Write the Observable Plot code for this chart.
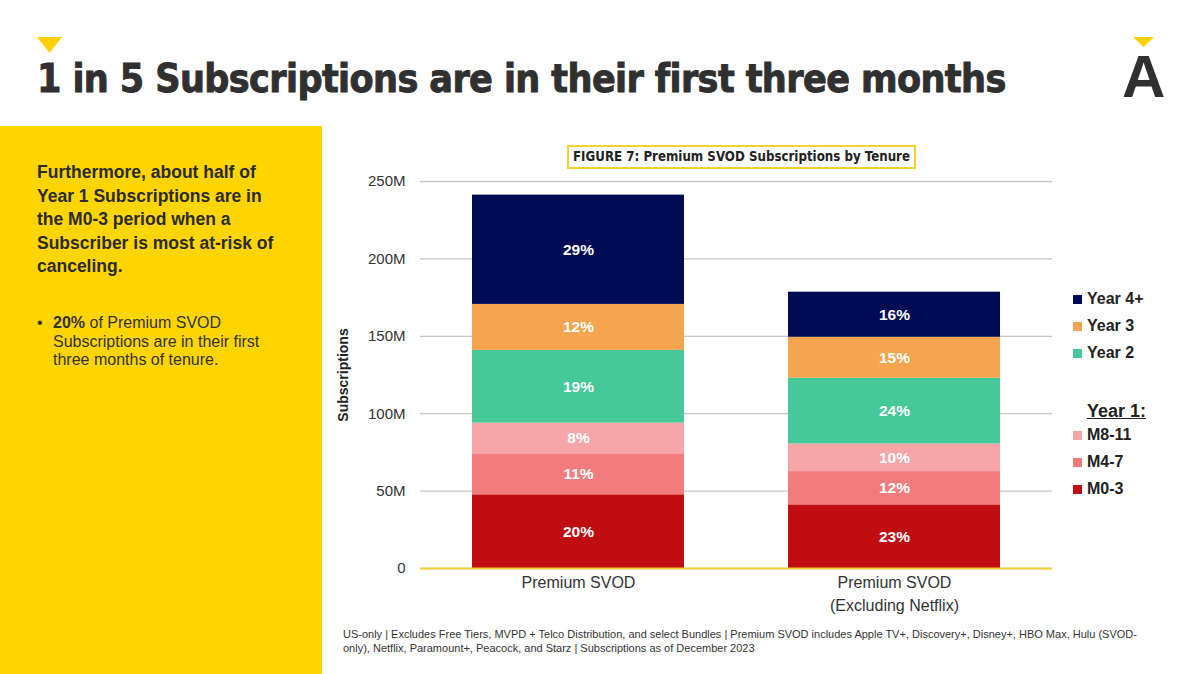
<!DOCTYPE html>
<html><head><meta charset="utf-8">
<script src="https://cdn.jsdelivr.net/npm/d3@7"></script>
<script src="https://cdn.jsdelivr.net/npm/@observablehq/plot@0.6"></script>
<style>
  html, body { margin: 0; padding: 0; background: #fff; }
  body { width: 1200px; height: 674px; position: relative; overflow: hidden; font-family: 'Liberation Sans', Arial, sans-serif; color: #333; }
  .abs { position: absolute; }
  #title { left: 37px; top: 59px; font-family: 'DejaVu Sans Condensed', sans-serif; font-weight: bold; font-size: 39px; letter-spacing: -0.6px; line-height: 1; color: #303030; white-space: nowrap; -webkit-text-stroke: 0.9px #303030; }
  #logo { left: 1122px; top: 47px; font-weight: bold; font-size: 60px; line-height: 1; color: #303030; }
  #panel { left: 0; top: 126px; width: 322px; height: 548px; background: #FFD500; }
  #lead { left: 37px; top: 161px; font-weight: bold; font-size: 17.5px; line-height: 23.5px; color: #2b2b2b; white-space: nowrap; }
  #bullet { left: 37px; top: 314px; font-size: 16px; line-height: 18.5px; color: #333; }
  #bullet .dot { position: absolute; left: 0; top: 0; }
  #bullet .txt { position: absolute; left: 16px; top: 0; white-space: nowrap; }
  #figtitle { left: 567px; top: 145px; width: 345px; height: 20px; border: 2px solid #F2D22E; background: #fff; font-family: 'DejaVu Sans Condensed', sans-serif; font-weight: bold; font-size: 13.2px; line-height: 20px; text-align: center; color: #222; white-space: nowrap; }
  #chart { left: 330px; top: 130px; }
  #legend .item { position: absolute; left: 1073px; font-weight: bold; font-size: 16px; line-height: 16px; color: #222; white-space: nowrap; }
  #legend .sw { display: inline-block; width: 9px; height: 9px; margin-right: 5px; vertical-align: baseline; }
  #legend .head { position: absolute; left: 1087px; font-weight: bold; font-size: 18px; line-height: 18px; text-decoration: underline; color: #222; }
  #foot { left: 343px; top: 627px; font-family: 'Liberation Sans', Arial, sans-serif; font-size: 11px; line-height: 14px; color: #333; white-space: nowrap; }
  g[aria-label="y-axis label"] text { font-weight: bold; font-size: 14px; fill: #222; }
</style>
</head><body>
<svg class="abs" style="left:0;top:0" width="1200" height="110">
  <polygon points="37,37 62,37 49.5,53" fill="#FFD100"></polygon>
  <polygon points="1133,37 1154,37 1143.5,47" fill="#FFD100"></polygon>
</svg>
<div id="title" class="abs">1 in 5 Subscriptions are in their first three months</div>
<div id="logo" class="abs">A</div>
<div id="panel" class="abs"></div>
<div id="lead" class="abs">Furthermore, about half of<br>Year 1 Subscriptions are in<br>the M0-3 period when a<br>Subscriber is most at-risk of<br>canceling.</div>
<div id="bullet" class="abs"><span class="dot">•</span><span class="txt"><b>20%</b> of Premium SVOD<br>Subscriptions are in their first<br>three months of tenure.</span></div>
<div id="chart" class="abs"></div>
<div id="figtitle" class="abs">FIGURE 7: Premium SVOD Subscriptions by Tenure</div>
<div id="legend"></div>
<div id="foot" class="abs">US-only | Excludes Free Tiers, MVPD + Telco Distribution, and select Bundles | Premium SVOD includes Apple TV+, Discovery+, Disney+, HBO Max, Hulu (SVOD-<br>only), Netflix, Paramount+, Peacock, and Starz | Subscriptions as of December 2023</div>
<script>
// ---- data ----
const categories = ["Premium SVOD", "Premium SVOD\n(Excluding Netflix)"];
const series = ["M0-3", "M4-7", "M8-11", "Year 2", "Year 3", "Year 4+"];
const colors = ["#C00D12", "#F27B7E", "#F6A5A8", "#45C99A", "#F5A54F", "#000B55"];
const premiumValues = [47.6, 26.5, 19.8, 47.0, 29.7, 70.6];      // millions
const exNetflixValues = [41.1, 21.5, 17.9, 42.4, 26.5, 29.1];    // millions
const premiumLabels = ["20%", "11%", "8%", "19%", "12%", "29%"];
const exNetflixLabels = ["23%", "12%", "10%", "24%", "15%", "16%"];
const yTicks = [0, 50, 100, 150, 200, 250];
const legendYears = ["Year 4+", "Year 3", "Year 2"];
const legendYear1 = ["M8-11", "M4-7", "M0-3"];
const legendHead = "Year 1:";

const rows = [];
series.forEach((s, i) => rows.push({category: categories[0], series: s, value: premiumValues[i], label: premiumLabels[i]}));
series.forEach((s, i) => rows.push({category: categories[1], series: s, value: exNetflixValues[i], label: exNetflixLabels[i]}));

const chart = Plot.plot({
  width: 870, height: 500,
  marginLeft: 90, marginRight: 148, marginTop: 51, marginBottom: 62,
  x: {domain: categories, paddingInner: 0.33, paddingOuter: 0.165, label: null},
  y: {domain: [0, 250], label: null},
  color: {domain: series, range: colors},
  style: {fontFamily: "'Liberation Sans', Arial, sans-serif", fontSize: "15px", color: "#333", background: "transparent", overflow: "visible"},
  marks: [
    Plot.gridY(yTicks, {stroke: "#c6c6c6", strokeOpacity: 1, strokeWidth: 1.3}),
    Plot.barY(rows, {x: "category", y: "value", fill: "series"}),
    Plot.ruleY([0], {stroke: "#F2D22E", strokeWidth: 2}),
    Plot.axisY(yTicks, {tickSize: 0, tickPadding: 15, tickFormat: d => d === 0 ? "0" : d + "M", fontSize: 15, label: "Subscriptions", labelAnchor: "center", labelOffset: 82, labelArrow: "none"}),
    Plot.axisX({tickSize: 0, tickPadding: 3, fontSize: 16, lineHeight: 1.45, label: null}),
    Plot.text(rows, Plot.stackY({x: "category", y: "value", z: "series", text: "label", fill: "white", fontWeight: "bold", fontSize: 15.5}))
  ]
});
document.getElementById("chart").appendChild(chart);

// ---- legend ----
const colorOf = s => colors[series.indexOf(s)];
const legend = document.getElementById("legend");
const addItem = (s, top) => {
  const d = document.createElement("div");
  d.className = "item";
  d.style.top = top + "px";
  d.innerHTML = `<span class="sw" style="background:${colorOf(s)}"></span>${s}`;
  legend.appendChild(d);
};
legendYears.forEach((s, i) => addItem(s, 291 + i * 27));
const h = document.createElement("div");
h.className = "head"; h.style.top = "402px"; h.textContent = legendHead;
legend.appendChild(h);
legendYear1.forEach((s, i) => addItem(s, 427 + i * 27));
</script>
</body></html>
